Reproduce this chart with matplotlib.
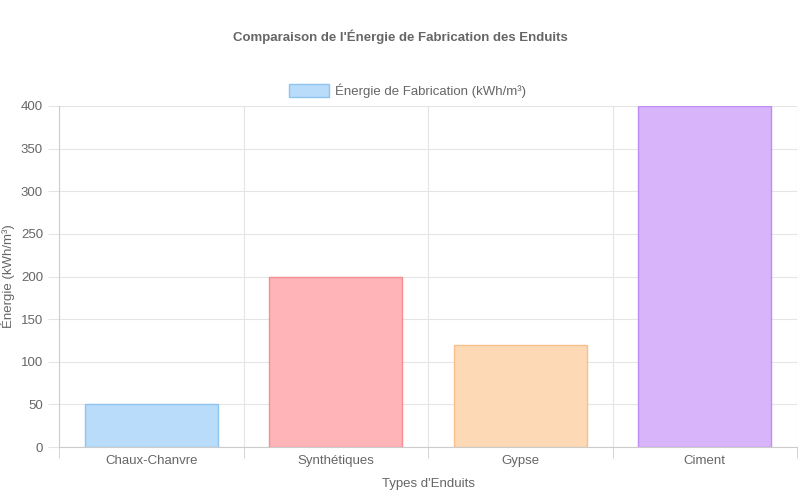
import matplotlib
matplotlib.use("Agg")
import matplotlib.pyplot as plt

categories = ["Chaux-Chanvre", "Synthétiques", "Gypse", "Ciment"]
values = [50, 200, 120, 400]
fills = ["#b9dcfb", "#ffb4b8", "#fddab5", "#d8b4fb"]
edges = ["#8ec4f0", "#f78c94", "#f7c08a", "#c08cf5"]

plt.rcParams['font.family'] = ['Liberation Sans', 'DejaVu Sans']
fig = plt.figure(figsize=(8, 5), dpi=100)
ax = fig.add_axes([59/800, 53/500, 738/800, 341/500])
x = range(len(categories))
ax.bar(x, values, width=0.72, color=fills, edgecolor=edges, linewidth=1)
ax.set_xlim(-0.5, len(categories) - 0.5)
ax.set_ylim(0, 400)
ax.set_yticks(range(0, 401, 50))
ax.set_xticks(list(x))
ax.set_xticklabels(categories)
ax.set_xticks([i + 0.5 for i in range(-1, len(categories))], minor=True)
ax.grid(False)
ax.yaxis.grid(True, color="#e5e5e5", linewidth=0.8)
ax.xaxis.grid(True, which="minor", color="#e5e5e5", linewidth=0.8)
ax.set_axisbelow(True)
ax.tick_params(axis="x", which="major", length=0, colors="#666666", labelsize=9.5, pad=6)
ax.tick_params(axis="x", which="minor", length=8, color="#cccccc")
ax.tick_params(axis="y", length=8, color="#e5e5e5", colors="#666666", labelsize=9.5)
for s in ["top", "right"]:
    ax.spines[s].set_visible(False)
for s in ["left", "bottom"]:
    ax.spines[s].set_color("#cccccc")
ax.set_xlabel("Types d'Enduits", color="#666666", fontsize=9.5, labelpad=8)
ax.set_ylabel("Énergie (kWh/m³)", color="#666666", fontsize=9.5)
fig.text(0.5, 1 - 37/500, "Comparaison de l'Énergie de Fabrication des Enduits",
         ha="center", va="center", fontsize=9.5, fontweight="bold", color="#666666")
fig.patches.append(plt.Rectangle((289/800, 1 - 97/500), 40/800, 13/500,
                                 transform=fig.transFigure, facecolor=fills[0], edgecolor=edges[0]))
fig.text(335/800, 1 - 90.5/500, "Énergie de Fabrication (kWh/m³)", ha="left", va="center",
         fontsize=9.5, color="#666666")
fig.savefig("out.png", dpi=100, facecolor="white")
